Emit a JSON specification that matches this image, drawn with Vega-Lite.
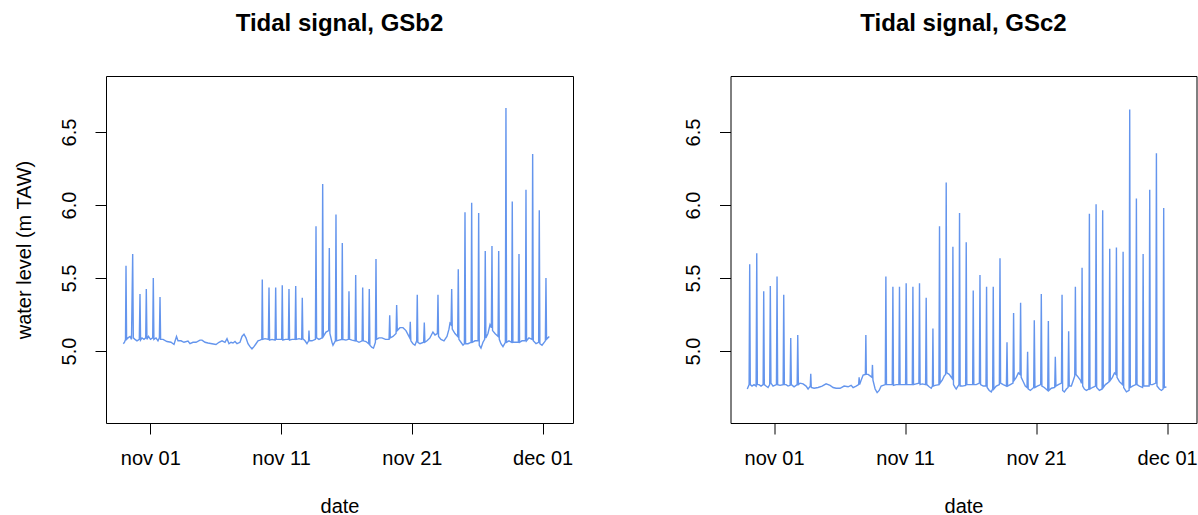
{
  "$schema": "https://vega.github.io/schema/vega-lite/v6.json",
  "background": "white",
  "padding": {"left": 13, "top": 11, "right": 2, "bottom": 2},
  "bounds": "flush",
  "spacing": 157.5,
  "config": {
    "font": "Liberation Sans",
    "view": {"stroke": "black", "strokeWidth": 1},
    "axis": {
      "domain": false,
      "grid": false,
      "ticks": true,
      "tickColor": "black",
      "tickWidth": 1,
      "tickSize": 11,
      "labelColor": "black",
      "labelFont": "Liberation Sans",
      "labelFontSize": 20,
      "titleColor": "black",
      "titleFont": "Liberation Sans",
      "titleFontSize": 20,
      "titleFontWeight": "normal"
    },
    "title": {
      "font": "Liberation Sans",
      "fontSize": 24,
      "fontWeight": "bold",
      "color": "black",
      "anchor": "middle",
      "baseline": "alphabetic",
      "offset": 40
    }
  },
  "datasets": {
    "gsb2": [
      {"t":"2021-10-29T22:30:00Z","level":5.05},
      {"t":"2021-10-30T00:40:00Z","level":5.06},
      {"t":"2021-10-30T02:30:00Z","level":5.08},
      {"t":"2021-10-30T03:25:00Z","level":5.585},
      {"t":"2021-10-30T04:30:00Z","level":5.08},
      {"t":"2021-10-30T07:05:00Z","level":5.09},
      {"t":"2021-10-30T10:45:00Z","level":5.10},
      {"t":"2021-10-30T13:30:00Z","level":5.08},
      {"t":"2021-10-30T15:40:00Z","level":5.665},
      {"t":"2021-10-30T16:50:00Z","level":5.09},
      {"t":"2021-10-30T19:55:00Z","level":5.08},
      {"t":"2021-10-30T23:35:00Z","level":5.07},
      {"t":"2021-10-31T03:50:00Z","level":5.08},
      {"t":"2021-10-31T05:05:00Z","level":5.39},
      {"t":"2021-10-31T06:10:00Z","level":5.075},
      {"t":"2021-10-31T08:50:00Z","level":5.09},
      {"t":"2021-10-31T12:25:00Z","level":5.08},
      {"t":"2021-10-31T15:35:00Z","level":5.09},
      {"t":"2021-10-31T16:40:00Z","level":5.425},
      {"t":"2021-10-31T17:50:00Z","level":5.08},
      {"t":"2021-10-31T20:40:00Z","level":5.10},
      {"t":"2021-11-01T00:20:00Z","level":5.08},
      {"t":"2021-11-01T04:25:00Z","level":5.09},
      {"t":"2021-11-01T05:30:00Z","level":5.50},
      {"t":"2021-11-01T06:35:00Z","level":5.08},
      {"t":"2021-11-01T10:30:00Z","level":5.09},
      {"t":"2021-11-01T14:05:00Z","level":5.07},
      {"t":"2021-11-01T16:40:00Z","level":5.09},
      {"t":"2021-11-01T17:50:00Z","level":5.37},
      {"t":"2021-11-01T18:55:00Z","level":5.08},
      {"t":"2021-11-01T23:20:00Z","level":5.08},
      {"t":"2021-11-02T06:40:00Z","level":5.065},
      {"t":"2021-11-02T14:00:00Z","level":5.06},
      {"t":"2021-11-02T19:30:00Z","level":5.045},
      {"t":"2021-11-03T00:05:00Z","level":5.10},
      {"t":"2021-11-03T02:50:00Z","level":5.07},
      {"t":"2021-11-03T08:20:00Z","level":5.07},
      {"t":"2021-11-03T13:50:00Z","level":5.06},
      {"t":"2021-11-03T21:10:00Z","level":5.068},
      {"t":"2021-11-04T00:50:00Z","level":5.05},
      {"t":"2021-11-04T06:25:00Z","level":5.06},
      {"t":"2021-11-04T11:55:00Z","level":5.06},
      {"t":"2021-11-04T19:10:00Z","level":5.075},
      {"t":"2021-11-04T22:55:00Z","level":5.075},
      {"t":"2021-11-05T04:25:00Z","level":5.06},
      {"t":"2021-11-05T09:55:00Z","level":5.055},
      {"t":"2021-11-05T17:10:00Z","level":5.05},
      {"t":"2021-11-06T00:35:00Z","level":5.045},
      {"t":"2021-11-06T06:05:00Z","level":5.06},
      {"t":"2021-11-06T11:35:00Z","level":5.07},
      {"t":"2021-11-06T17:05:00Z","level":5.06},
      {"t":"2021-11-06T20:45:00Z","level":5.085},
      {"t":"2021-11-07T00:25:00Z","level":5.05},
      {"t":"2021-11-07T04:05:00Z","level":5.06},
      {"t":"2021-11-07T07:45:00Z","level":5.055},
      {"t":"2021-11-07T11:25:00Z","level":5.065},
      {"t":"2021-11-07T15:05:00Z","level":5.05},
      {"t":"2021-11-07T20:35:00Z","level":5.06},
      {"t":"2021-11-08T00:15:00Z","level":5.10},
      {"t":"2021-11-08T03:55:00Z","level":5.115},
      {"t":"2021-11-08T07:35:00Z","level":5.09},
      {"t":"2021-11-08T11:15:00Z","level":5.05},
      {"t":"2021-11-08T14:55:00Z","level":5.03},
      {"t":"2021-11-08T18:35:00Z","level":5.015},
      {"t":"2021-11-08T22:15:00Z","level":5.03},
      {"t":"2021-11-09T02:00:00Z","level":5.05},
      {"t":"2021-11-09T05:35:00Z","level":5.07},
      {"t":"2021-11-09T09:20:00Z","level":5.075},
      {"t":"2021-11-09T12:35:00Z","level":5.08},
      {"t":"2021-11-09T13:30:00Z","level":5.49},
      {"t":"2021-11-09T14:35:00Z","level":5.08},
      {"t":"2021-11-09T18:30:00Z","level":5.085},
      {"t":"2021-11-10T00:40:00Z","level":5.08},
      {"t":"2021-11-10T01:50:00Z","level":5.435},
      {"t":"2021-11-10T02:55:00Z","level":5.075},
      {"t":"2021-11-10T07:20:00Z","level":5.08},
      {"t":"2021-11-10T13:00:00Z","level":5.075},
      {"t":"2021-11-10T14:05:00Z","level":5.435},
      {"t":"2021-11-10T15:10:00Z","level":5.08},
      {"t":"2021-11-10T20:10:00Z","level":5.08},
      {"t":"2021-11-11T01:05:00Z","level":5.08},
      {"t":"2021-11-11T02:10:00Z","level":5.45},
      {"t":"2021-11-11T03:20:00Z","level":5.075},
      {"t":"2021-11-11T08:05:00Z","level":5.08},
      {"t":"2021-11-11T13:25:00Z","level":5.08},
      {"t":"2021-11-11T14:30:00Z","level":5.425},
      {"t":"2021-11-11T15:35:00Z","level":5.075},
      {"t":"2021-11-11T20:00:00Z","level":5.08},
      {"t":"2021-11-12T01:40:00Z","level":5.08},
      {"t":"2021-11-12T02:50:00Z","level":5.445},
      {"t":"2021-11-12T03:55:00Z","level":5.08},
      {"t":"2021-11-12T08:55:00Z","level":5.085},
      {"t":"2021-11-12T13:50:00Z","level":5.08},
      {"t":"2021-11-12T14:55:00Z","level":5.365},
      {"t":"2021-11-12T16:00:00Z","level":5.085},
      {"t":"2021-11-12T19:55:00Z","level":5.07},
      {"t":"2021-11-12T23:30:00Z","level":5.05},
      {"t":"2021-11-13T02:30:00Z","level":5.07},
      {"t":"2021-11-13T03:10:00Z","level":5.14},
      {"t":"2021-11-13T04:05:00Z","level":5.07},
      {"t":"2021-11-13T08:40:00Z","level":5.07},
      {"t":"2021-11-13T15:00:00Z","level":5.08},
      {"t":"2021-11-13T16:05:00Z","level":5.855},
      {"t":"2021-11-13T17:10:00Z","level":5.09},
      {"t":"2021-11-13T21:30:00Z","level":5.08},
      {"t":"2021-11-14T03:15:00Z","level":5.09},
      {"t":"2021-11-14T04:20:00Z","level":6.145},
      {"t":"2021-11-14T05:30:00Z","level":5.10},
      {"t":"2021-11-14T10:25:00Z","level":5.13},
      {"t":"2021-11-14T15:20:00Z","level":5.14},
      {"t":"2021-11-14T16:30:00Z","level":5.705},
      {"t":"2021-11-14T17:35:00Z","level":5.12},
      {"t":"2021-11-14T21:25:00Z","level":5.06},
      {"t":"2021-11-14T23:15:00Z","level":5.04},
      {"t":"2021-11-15T03:40:00Z","level":5.07},
      {"t":"2021-11-15T04:45:00Z","level":5.935},
      {"t":"2021-11-15T05:50:00Z","level":5.07},
      {"t":"2021-11-15T10:15:00Z","level":5.075},
      {"t":"2021-11-15T15:10:00Z","level":5.08},
      {"t":"2021-11-15T16:20:00Z","level":5.74},
      {"t":"2021-11-15T17:25:00Z","level":5.08},
      {"t":"2021-11-15T23:05:00Z","level":5.075},
      {"t":"2021-11-16T03:30:00Z","level":5.08},
      {"t":"2021-11-16T04:35:00Z","level":5.41},
      {"t":"2021-11-16T05:40:00Z","level":5.08},
      {"t":"2021-11-16T10:05:00Z","level":5.075},
      {"t":"2021-11-16T15:50:00Z","level":5.07},
      {"t":"2021-11-16T16:55:00Z","level":5.52},
      {"t":"2021-11-16T18:00:00Z","level":5.07},
      {"t":"2021-11-16T23:00:00Z","level":5.06},
      {"t":"2021-11-17T04:40:00Z","level":5.07},
      {"t":"2021-11-17T05:45:00Z","level":5.435},
      {"t":"2021-11-17T06:50:00Z","level":5.07},
      {"t":"2021-11-17T11:50:00Z","level":5.065},
      {"t":"2021-11-17T16:45:00Z","level":5.05},
      {"t":"2021-11-17T17:50:00Z","level":5.425},
      {"t":"2021-11-17T19:00:00Z","level":5.04},
      {"t":"2021-11-17T22:50:00Z","level":5.025},
      {"t":"2021-11-18T01:35:00Z","level":5.02},
      {"t":"2021-11-18T05:05:00Z","level":5.06},
      {"t":"2021-11-18T06:10:00Z","level":5.63},
      {"t":"2021-11-18T07:15:00Z","level":5.08},
      {"t":"2021-11-18T11:40:00Z","level":5.09},
      {"t":"2021-11-18T17:10:00Z","level":5.09},
      {"t":"2021-11-18T23:35:00Z","level":5.08},
      {"t":"2021-11-19T06:10:00Z","level":5.08},
      {"t":"2021-11-19T07:20:00Z","level":5.245},
      {"t":"2021-11-19T08:25:00Z","level":5.09},
      {"t":"2021-11-19T13:20:00Z","level":5.10},
      {"t":"2021-11-19T19:00:00Z","level":5.12},
      {"t":"2021-11-19T20:05:00Z","level":5.315},
      {"t":"2021-11-19T21:15:00Z","level":5.14},
      {"t":"2021-11-20T02:10:00Z","level":5.16},
      {"t":"2021-11-20T07:40:00Z","level":5.16},
      {"t":"2021-11-20T13:10:00Z","level":5.14},
      {"t":"2021-11-20T20:00:00Z","level":5.09},
      {"t":"2021-11-20T21:05:00Z","level":5.20},
      {"t":"2021-11-20T22:10:00Z","level":5.07},
      {"t":"2021-11-21T02:00:00Z","level":5.05},
      {"t":"2021-11-21T05:40:00Z","level":5.04},
      {"t":"2021-11-21T08:50:00Z","level":5.07},
      {"t":"2021-11-21T09:55:00Z","level":5.385},
      {"t":"2021-11-21T11:00:00Z","level":5.06},
      {"t":"2021-11-21T14:55:00Z","level":5.05},
      {"t":"2021-11-21T21:40:00Z","level":5.06},
      {"t":"2021-11-21T22:50:00Z","level":5.195},
      {"t":"2021-11-21T23:55:00Z","level":5.06},
      {"t":"2021-11-22T03:45:00Z","level":5.07},
      {"t":"2021-11-22T09:10:00Z","level":5.09},
      {"t":"2021-11-22T14:40:00Z","level":5.13},
      {"t":"2021-11-22T18:25:00Z","level":5.11},
      {"t":"2021-11-22T22:50:00Z","level":5.12},
      {"t":"2021-11-22T23:55:00Z","level":5.385},
      {"t":"2021-11-23T01:00:00Z","level":5.10},
      {"t":"2021-11-23T05:25:00Z","level":5.08},
      {"t":"2021-11-23T10:55:00Z","level":5.07},
      {"t":"2021-11-23T16:25:00Z","level":5.10},
      {"t":"2021-11-23T20:05:00Z","level":5.15},
      {"t":"2021-11-23T21:55:00Z","level":5.19},
      {"t":"2021-11-23T23:55:00Z","level":5.18},
      {"t":"2021-11-24T01:05:00Z","level":5.425},
      {"t":"2021-11-24T02:10:00Z","level":5.15},
      {"t":"2021-11-24T07:05:00Z","level":5.12},
      {"t":"2021-11-24T12:05:00Z","level":5.10},
      {"t":"2021-11-24T13:10:00Z","level":5.56},
      {"t":"2021-11-24T14:20:00Z","level":5.08},
      {"t":"2021-11-24T18:05:00Z","level":5.06},
      {"t":"2021-11-24T21:50:00Z","level":5.04},
      {"t":"2021-11-25T00:25:00Z","level":5.05},
      {"t":"2021-11-25T01:30:00Z","level":5.95},
      {"t":"2021-11-25T02:35:00Z","level":5.05},
      {"t":"2021-11-25T07:00:00Z","level":5.05},
      {"t":"2021-11-25T12:40:00Z","level":5.06},
      {"t":"2021-11-25T13:45:00Z","level":6.015},
      {"t":"2021-11-25T14:50:00Z","level":5.06},
      {"t":"2021-11-25T19:50:00Z","level":5.07},
      {"t":"2021-11-26T01:30:00Z","level":5.07},
      {"t":"2021-11-26T02:35:00Z","level":5.945},
      {"t":"2021-11-26T03:40:00Z","level":5.04},
      {"t":"2021-11-26T06:50:00Z","level":5.02},
      {"t":"2021-11-26T10:30:00Z","level":5.06},
      {"t":"2021-11-26T13:35:00Z","level":5.08},
      {"t":"2021-11-26T14:40:00Z","level":5.685},
      {"t":"2021-11-26T15:50:00Z","level":5.09},
      {"t":"2021-11-26T19:40:00Z","level":5.12},
      {"t":"2021-11-26T23:25:00Z","level":5.18},
      {"t":"2021-11-27T01:55:00Z","level":5.16},
      {"t":"2021-11-27T03:00:00Z","level":5.72},
      {"t":"2021-11-27T04:05:00Z","level":5.14},
      {"t":"2021-11-27T08:30:00Z","level":5.12},
      {"t":"2021-11-27T14:10:00Z","level":5.10},
      {"t":"2021-11-27T15:20:00Z","level":5.685},
      {"t":"2021-11-27T16:25:00Z","level":5.08},
      {"t":"2021-11-27T19:30:00Z","level":5.05},
      {"t":"2021-11-27T23:10:00Z","level":5.03},
      {"t":"2021-11-28T03:35:00Z","level":5.06},
      {"t":"2021-11-28T04:40:00Z","level":6.665},
      {"t":"2021-11-28T05:50:00Z","level":5.06},
      {"t":"2021-11-28T10:10:00Z","level":5.07},
      {"t":"2021-11-28T15:10:00Z","level":5.06},
      {"t":"2021-11-28T16:15:00Z","level":6.025},
      {"t":"2021-11-28T17:25:00Z","level":5.06},
      {"t":"2021-11-28T21:10:00Z","level":5.06},
      {"t":"2021-11-29T03:30:00Z","level":5.06},
      {"t":"2021-11-29T04:35:00Z","level":5.665},
      {"t":"2021-11-29T05:40:00Z","level":5.06},
      {"t":"2021-11-29T10:05:00Z","level":5.07},
      {"t":"2021-11-29T16:20:00Z","level":5.07},
      {"t":"2021-11-29T17:25:00Z","level":6.105},
      {"t":"2021-11-29T18:30:00Z","level":5.07},
      {"t":"2021-11-29T22:55:00Z","level":5.09},
      {"t":"2021-11-30T04:35:00Z","level":5.08},
      {"t":"2021-11-30T05:40:00Z","level":6.35},
      {"t":"2021-11-30T06:50:00Z","level":5.07},
      {"t":"2021-11-30T11:50:00Z","level":5.05},
      {"t":"2021-11-30T16:40:00Z","level":5.06},
      {"t":"2021-11-30T17:50:00Z","level":5.965},
      {"t":"2021-11-30T18:55:00Z","level":5.05},
      {"t":"2021-11-30T22:50:00Z","level":5.04},
      {"t":"2021-12-01T05:00:00Z","level":5.07},
      {"t":"2021-12-01T06:05:00Z","level":5.50},
      {"t":"2021-12-01T07:10:00Z","level":5.08},
      {"t":"2021-12-01T12:10:00Z","level":5.10}
    ],
    "gsc2": [
      {"t":"2021-10-29T23:00:00Z","level":4.74},
      {"t":"2021-10-30T01:15:00Z","level":4.76},
      {"t":"2021-10-30T02:20:00Z","level":4.77},
      {"t":"2021-10-30T03:25:00Z","level":5.595},
      {"t":"2021-10-30T04:30:00Z","level":4.77},
      {"t":"2021-10-30T07:40:00Z","level":4.76},
      {"t":"2021-10-30T11:20:00Z","level":4.77},
      {"t":"2021-10-30T15:10:00Z","level":4.76},
      {"t":"2021-10-30T16:20:00Z","level":5.67},
      {"t":"2021-10-30T17:25:00Z","level":4.77},
      {"t":"2021-10-30T20:30:00Z","level":4.77},
      {"t":"2021-10-31T00:10:00Z","level":4.76},
      {"t":"2021-10-31T04:00:00Z","level":4.77},
      {"t":"2021-10-31T05:05:00Z","level":5.41},
      {"t":"2021-10-31T06:10:00Z","level":4.77},
      {"t":"2021-10-31T09:20:00Z","level":4.76},
      {"t":"2021-10-31T13:00:00Z","level":4.75},
      {"t":"2021-10-31T16:05:00Z","level":4.77},
      {"t":"2021-10-31T17:10:00Z","level":5.445},
      {"t":"2021-10-31T18:20:00Z","level":4.78},
      {"t":"2021-10-31T22:10:00Z","level":4.76},
      {"t":"2021-11-01T04:25:00Z","level":4.77},
      {"t":"2021-11-01T05:30:00Z","level":5.51},
      {"t":"2021-11-01T06:35:00Z","level":4.77},
      {"t":"2021-11-01T11:00:00Z","level":4.765},
      {"t":"2021-11-01T16:40:00Z","level":4.77},
      {"t":"2021-11-01T17:45:00Z","level":5.385},
      {"t":"2021-11-01T18:55:00Z","level":4.77},
      {"t":"2021-11-01T22:00:00Z","level":4.77},
      {"t":"2021-11-02T01:40:00Z","level":4.76},
      {"t":"2021-11-02T05:30:00Z","level":4.765},
      {"t":"2021-11-02T06:35:00Z","level":5.09},
      {"t":"2021-11-02T07:40:00Z","level":4.77},
      {"t":"2021-11-02T12:40:00Z","level":4.755},
      {"t":"2021-11-02T18:20:00Z","level":4.77},
      {"t":"2021-11-02T19:25:00Z","level":5.11},
      {"t":"2021-11-02T20:35:00Z","level":4.77},
      {"t":"2021-11-02T23:40:00Z","level":4.78},
      {"t":"2021-11-03T05:10:00Z","level":4.775},
      {"t":"2021-11-03T10:40:00Z","level":4.76},
      {"t":"2021-11-03T14:20:00Z","level":4.74},
      {"t":"2021-11-03T18:20:00Z","level":4.76},
      {"t":"2021-11-03T19:15:00Z","level":4.845},
      {"t":"2021-11-03T20:10:00Z","level":4.75},
      {"t":"2021-11-04T01:20:00Z","level":4.745},
      {"t":"2021-11-04T08:40:00Z","level":4.75},
      {"t":"2021-11-04T16:00:00Z","level":4.76},
      {"t":"2021-11-04T23:20:00Z","level":4.775},
      {"t":"2021-11-05T06:40:00Z","level":4.765},
      {"t":"2021-11-05T12:10:00Z","level":4.75},
      {"t":"2021-11-05T17:40:00Z","level":4.745},
      {"t":"2021-11-06T01:00:00Z","level":4.745},
      {"t":"2021-11-06T08:20:00Z","level":4.76},
      {"t":"2021-11-06T15:40:00Z","level":4.755},
      {"t":"2021-11-06T21:10:00Z","level":4.765},
      {"t":"2021-11-07T00:50:00Z","level":4.75},
      {"t":"2021-11-07T06:20:00Z","level":4.76},
      {"t":"2021-11-07T10:55:00Z","level":4.77},
      {"t":"2021-11-07T11:50:00Z","level":4.82},
      {"t":"2021-11-07T12:45:00Z","level":4.77},
      {"t":"2021-11-07T15:30:00Z","level":4.80},
      {"t":"2021-11-07T19:10:00Z","level":4.835},
      {"t":"2021-11-07T23:15:00Z","level":4.84},
      {"t":"2021-11-08T00:10:00Z","level":5.11},
      {"t":"2021-11-08T01:00:00Z","level":4.84},
      {"t":"2021-11-08T04:20:00Z","level":4.84},
      {"t":"2021-11-08T08:00:00Z","level":4.83},
      {"t":"2021-11-08T11:20:00Z","level":4.82},
      {"t":"2021-11-08T12:15:00Z","level":4.905},
      {"t":"2021-11-08T13:10:00Z","level":4.80},
      {"t":"2021-11-08T17:10:00Z","level":4.74},
      {"t":"2021-11-08T20:50:00Z","level":4.715},
      {"t":"2021-11-09T00:30:00Z","level":4.73},
      {"t":"2021-11-09T04:10:00Z","level":4.76},
      {"t":"2021-11-09T07:50:00Z","level":4.765},
      {"t":"2021-11-09T11:45:00Z","level":4.77},
      {"t":"2021-11-09T12:50:00Z","level":5.51},
      {"t":"2021-11-09T13:55:00Z","level":4.77},
      {"t":"2021-11-09T18:50:00Z","level":4.77},
      {"t":"2021-11-10T00:30:00Z","level":4.77},
      {"t":"2021-11-10T01:40:00Z","level":5.44},
      {"t":"2021-11-10T02:45:00Z","level":4.765},
      {"t":"2021-11-10T07:40:00Z","level":4.77},
      {"t":"2021-11-10T12:40:00Z","level":4.77},
      {"t":"2021-11-10T13:45:00Z","level":5.44},
      {"t":"2021-11-10T14:50:00Z","level":4.77},
      {"t":"2021-11-10T18:40:00Z","level":4.77},
      {"t":"2021-11-11T00:55:00Z","level":4.77},
      {"t":"2021-11-11T02:00:00Z","level":5.465},
      {"t":"2021-11-11T03:05:00Z","level":4.77},
      {"t":"2021-11-11T07:30:00Z","level":4.77},
      {"t":"2021-11-11T13:10:00Z","level":4.77},
      {"t":"2021-11-11T14:20:00Z","level":5.44},
      {"t":"2021-11-11T15:25:00Z","level":4.77},
      {"t":"2021-11-11T20:20:00Z","level":4.775},
      {"t":"2021-11-12T01:20:00Z","level":4.78},
      {"t":"2021-11-12T02:25:00Z","level":5.465},
      {"t":"2021-11-12T03:30:00Z","level":4.77},
      {"t":"2021-11-12T07:20:00Z","level":4.775},
      {"t":"2021-11-12T13:35:00Z","level":4.77},
      {"t":"2021-11-12T14:40:00Z","level":5.365},
      {"t":"2021-11-12T15:45:00Z","level":4.77},
      {"t":"2021-11-12T20:10:00Z","level":4.755},
      {"t":"2021-11-12T23:50:00Z","level":4.745},
      {"t":"2021-11-13T02:05:00Z","level":4.76},
      {"t":"2021-11-13T03:00:00Z","level":5.155},
      {"t":"2021-11-13T03:55:00Z","level":4.76},
      {"t":"2021-11-13T07:10:00Z","level":4.765},
      {"t":"2021-11-13T14:00:00Z","level":4.77},
      {"t":"2021-11-13T15:05:00Z","level":5.855},
      {"t":"2021-11-13T16:10:00Z","level":4.78},
      {"t":"2021-11-13T20:00:00Z","level":4.80},
      {"t":"2021-11-13T23:40:00Z","level":4.83},
      {"t":"2021-11-14T02:15:00Z","level":4.84},
      {"t":"2021-11-14T03:20:00Z","level":6.155},
      {"t":"2021-11-14T04:25:00Z","level":4.85},
      {"t":"2021-11-14T08:50:00Z","level":4.84},
      {"t":"2021-11-14T14:30:00Z","level":4.81},
      {"t":"2021-11-14T15:35:00Z","level":5.715},
      {"t":"2021-11-14T16:40:00Z","level":4.77},
      {"t":"2021-11-14T19:50:00Z","level":4.75},
      {"t":"2021-11-14T21:40:00Z","level":4.74},
      {"t":"2021-11-15T02:40:00Z","level":4.77},
      {"t":"2021-11-15T03:45:00Z","level":5.945},
      {"t":"2021-11-15T04:50:00Z","level":4.76},
      {"t":"2021-11-15T08:40:00Z","level":4.76},
      {"t":"2021-11-15T14:55:00Z","level":4.765},
      {"t":"2021-11-15T16:00:00Z","level":5.745},
      {"t":"2021-11-15T17:05:00Z","level":4.77},
      {"t":"2021-11-15T21:30:00Z","level":4.77},
      {"t":"2021-11-16T03:45:00Z","level":4.77},
      {"t":"2021-11-16T04:50:00Z","level":5.415},
      {"t":"2021-11-16T05:55:00Z","level":4.77},
      {"t":"2021-11-16T10:20:00Z","level":4.77},
      {"t":"2021-11-16T16:05:00Z","level":4.78},
      {"t":"2021-11-16T17:10:00Z","level":5.52},
      {"t":"2021-11-16T18:15:00Z","level":4.77},
      {"t":"2021-11-16T23:10:00Z","level":4.76},
      {"t":"2021-11-17T04:10:00Z","level":4.76},
      {"t":"2021-11-17T05:15:00Z","level":5.44},
      {"t":"2021-11-17T06:20:00Z","level":4.75},
      {"t":"2021-11-17T10:10:00Z","level":4.73},
      {"t":"2021-11-17T13:55:00Z","level":4.72},
      {"t":"2021-11-17T16:25:00Z","level":4.74},
      {"t":"2021-11-17T17:30:00Z","level":5.44},
      {"t":"2021-11-17T18:35:00Z","level":4.74},
      {"t":"2021-11-17T23:00:00Z","level":4.76},
      {"t":"2021-11-18T04:40:00Z","level":4.77},
      {"t":"2021-11-18T05:50:00Z","level":5.635},
      {"t":"2021-11-18T06:55:00Z","level":4.78},
      {"t":"2021-11-18T11:50:00Z","level":4.77},
      {"t":"2021-11-18T17:35:00Z","level":4.76},
      {"t":"2021-11-18T18:40:00Z","level":5.06},
      {"t":"2021-11-18T19:45:00Z","level":4.76},
      {"t":"2021-11-19T00:40:00Z","level":4.77},
      {"t":"2021-11-19T05:40:00Z","level":4.78},
      {"t":"2021-11-19T06:45:00Z","level":5.26},
      {"t":"2021-11-19T07:50:00Z","level":4.80},
      {"t":"2021-11-19T11:40:00Z","level":4.82},
      {"t":"2021-11-19T15:25:00Z","level":4.85},
      {"t":"2021-11-19T18:30:00Z","level":4.84},
      {"t":"2021-11-19T19:35:00Z","level":5.33},
      {"t":"2021-11-19T20:40:00Z","level":4.82},
      {"t":"2021-11-20T00:30:00Z","level":4.79},
      {"t":"2021-11-20T04:10:00Z","level":4.76},
      {"t":"2021-11-20T07:20:00Z","level":4.75},
      {"t":"2021-11-20T08:25:00Z","level":4.995},
      {"t":"2021-11-20T09:30:00Z","level":4.74},
      {"t":"2021-11-20T13:25:00Z","level":4.73},
      {"t":"2021-11-20T19:35:00Z","level":4.75},
      {"t":"2021-11-20T20:40:00Z","level":5.21},
      {"t":"2021-11-20T21:50:00Z","level":4.75},
      {"t":"2021-11-21T02:10:00Z","level":4.76},
      {"t":"2021-11-21T08:25:00Z","level":4.77},
      {"t":"2021-11-21T09:30:00Z","level":5.39},
      {"t":"2021-11-21T10:35:00Z","level":4.76},
      {"t":"2021-11-21T15:00:00Z","level":4.75},
      {"t":"2021-11-21T21:15:00Z","level":4.73},
      {"t":"2021-11-21T22:25:00Z","level":5.205},
      {"t":"2021-11-21T23:30:00Z","level":4.73},
      {"t":"2021-11-22T03:55:00Z","level":4.745},
      {"t":"2021-11-22T10:05:00Z","level":4.75},
      {"t":"2021-11-22T11:10:00Z","level":4.96},
      {"t":"2021-11-22T12:20:00Z","level":4.76},
      {"t":"2021-11-22T16:40:00Z","level":4.77},
      {"t":"2021-11-22T22:25:00Z","level":4.78},
      {"t":"2021-11-22T23:30:00Z","level":5.385},
      {"t":"2021-11-23T00:35:00Z","level":4.73},
      {"t":"2021-11-23T03:40:00Z","level":4.72},
      {"t":"2021-11-23T07:25:00Z","level":4.74},
      {"t":"2021-11-23T10:30:00Z","level":4.75},
      {"t":"2021-11-23T11:35:00Z","level":5.135},
      {"t":"2021-11-23T12:40:00Z","level":4.76},
      {"t":"2021-11-23T16:30:00Z","level":4.76},
      {"t":"2021-11-23T20:10:00Z","level":4.80},
      {"t":"2021-11-23T22:45:00Z","level":4.83},
      {"t":"2021-11-23T23:55:00Z","level":5.44},
      {"t":"2021-11-24T01:00:00Z","level":4.84},
      {"t":"2021-11-24T05:25:00Z","level":4.82},
      {"t":"2021-11-24T09:05:00Z","level":4.80},
      {"t":"2021-11-24T11:05:00Z","level":4.78},
      {"t":"2021-11-24T12:10:00Z","level":5.57},
      {"t":"2021-11-24T13:20:00Z","level":4.76},
      {"t":"2021-11-24T16:25:00Z","level":4.74},
      {"t":"2021-11-24T20:05:00Z","level":4.73},
      {"t":"2021-11-25T00:30:00Z","level":4.74},
      {"t":"2021-11-25T01:35:00Z","level":5.94},
      {"t":"2021-11-25T02:40:00Z","level":4.74},
      {"t":"2021-11-25T07:00:00Z","level":4.75},
      {"t":"2021-11-25T12:45:00Z","level":4.76},
      {"t":"2021-11-25T13:50:00Z","level":6.005},
      {"t":"2021-11-25T14:55:00Z","level":4.75},
      {"t":"2021-11-25T19:55:00Z","level":4.73},
      {"t":"2021-11-26T00:50:00Z","level":4.74},
      {"t":"2021-11-26T01:55:00Z","level":5.965},
      {"t":"2021-11-26T03:00:00Z","level":4.75},
      {"t":"2021-11-26T06:55:00Z","level":4.77},
      {"t":"2021-11-26T10:35:00Z","level":4.78},
      {"t":"2021-11-26T13:40:00Z","level":4.79},
      {"t":"2021-11-26T14:50:00Z","level":5.70},
      {"t":"2021-11-26T15:55:00Z","level":4.80},
      {"t":"2021-11-26T19:45:00Z","level":4.82},
      {"t":"2021-11-26T23:25:00Z","level":4.85},
      {"t":"2021-11-27T02:00:00Z","level":4.84},
      {"t":"2021-11-27T03:05:00Z","level":5.71},
      {"t":"2021-11-27T04:10:00Z","level":4.82},
      {"t":"2021-11-27T08:35:00Z","level":4.79},
      {"t":"2021-11-27T14:10:00Z","level":4.77},
      {"t":"2021-11-27T15:20:00Z","level":5.68},
      {"t":"2021-11-27T16:25:00Z","level":4.75},
      {"t":"2021-11-27T21:25:00Z","level":4.72},
      {"t":"2021-11-28T02:20:00Z","level":4.73},
      {"t":"2021-11-28T03:25:00Z","level":6.655},
      {"t":"2021-11-28T04:30:00Z","level":4.75},
      {"t":"2021-11-28T08:25:00Z","level":4.76},
      {"t":"2021-11-28T14:35:00Z","level":4.77},
      {"t":"2021-11-28T15:40:00Z","level":6.045},
      {"t":"2021-11-28T16:50:00Z","level":4.77},
      {"t":"2021-11-28T21:10:00Z","level":4.76},
      {"t":"2021-11-29T02:55:00Z","level":4.75},
      {"t":"2021-11-29T04:00:00Z","level":5.665},
      {"t":"2021-11-29T05:05:00Z","level":4.76},
      {"t":"2021-11-29T10:00:00Z","level":4.76},
      {"t":"2021-11-29T15:00:00Z","level":4.76},
      {"t":"2021-11-29T16:05:00Z","level":6.105},
      {"t":"2021-11-29T17:10:00Z","level":4.77},
      {"t":"2021-11-29T21:00:00Z","level":4.77},
      {"t":"2021-11-30T03:15:00Z","level":4.78},
      {"t":"2021-11-30T04:20:00Z","level":6.355},
      {"t":"2021-11-30T05:25:00Z","level":4.76},
      {"t":"2021-11-30T09:50:00Z","level":4.74},
      {"t":"2021-11-30T13:30:00Z","level":4.73},
      {"t":"2021-11-30T16:35:00Z","level":4.74},
      {"t":"2021-11-30T17:40:00Z","level":5.98},
      {"t":"2021-11-30T18:50:00Z","level":4.75},
      {"t":"2021-11-30T22:40:00Z","level":4.755}
    ]
  },
  "hconcat": [
    {
      "width": 467,
      "height": 347,
      "title": "Tidal signal, GSb2",
      "data": {"name": "gsb2"},
      "mark": {"type": "line", "color": "#6495ED", "strokeWidth": 1.4, "clip": true},
      "encoding": {
        "x": {
          "field": "t",
          "type": "temporal",
          "scale": {
            "type": "utc",
            "domain": [
              {"year": 2021, "month": 10, "date": 28, "hours": 14, "minutes": 42, "utc": true},
              {"year": 2021, "month": 12, "date": 3, "hours": 7, "minutes": 42, "utc": true}
            ]
          },
          "axis": {
            "title": "date",
            "values": [
              {"year": 2021, "month": 11, "date": 1, "utc": true},
              {"year": 2021, "month": 11, "date": 11, "utc": true},
              {"year": 2021, "month": 11, "date": 21, "utc": true},
              {"year": 2021, "month": 12, "date": 1, "utc": true}
            ],
            "labelExpr": "lower(utcFormat(datum.value, '%b %d'))",
            "labelAlign": "center",
            "labelBaseline": "top",
            "labelPadding": 14,
            "labelFlush": false,
            "labelOverlap": false,
            "titlePadding": 28
          }
        },
        "y": {
          "field": "level",
          "type": "quantitative",
          "scale": {"domain": [4.507, 6.884], "nice": false, "zero": false},
          "axis": {
            "title": "water level (m TAW)",
            "values": [5, 5.5, 6, 6.5],
            "format": ".1f",
            "labelAngle": -90,
            "labelAlign": "center",
            "labelBaseline": "bottom",
            "labelPadding": 16,
            "labelFlush": false,
            "labelOverlap": false,
            "titlePadding": 25
          }
        }
      }
    },
    {
      "width": 466,
      "height": 347,
      "title": "Tidal signal, GSc2",
      "data": {"name": "gsc2"},
      "mark": {"type": "line", "color": "#6495ED", "strokeWidth": 1.4, "clip": true},
      "encoding": {
        "x": {
          "field": "t",
          "type": "temporal",
          "scale": {
            "type": "utc",
            "domain": [
              {"year": 2021, "month": 10, "date": 28, "hours": 16, "minutes": 15, "utc": true},
              {"year": 2021, "month": 12, "date": 3, "hours": 5, "minutes": 45, "utc": true}
            ]
          },
          "axis": {
            "title": "date",
            "values": [
              {"year": 2021, "month": 11, "date": 1, "utc": true},
              {"year": 2021, "month": 11, "date": 11, "utc": true},
              {"year": 2021, "month": 11, "date": 21, "utc": true},
              {"year": 2021, "month": 12, "date": 1, "utc": true}
            ],
            "labelExpr": "lower(utcFormat(datum.value, '%b %d'))",
            "labelAlign": "center",
            "labelBaseline": "top",
            "labelPadding": 14,
            "labelFlush": false,
            "labelOverlap": false,
            "titlePadding": 28
          }
        },
        "y": {
          "field": "level",
          "type": "quantitative",
          "scale": {"domain": [4.507, 6.884], "nice": false, "zero": false},
          "axis": {
            "title": null,
            "values": [5, 5.5, 6, 6.5],
            "format": ".1f",
            "labelAngle": -90,
            "labelAlign": "center",
            "labelBaseline": "bottom",
            "labelPadding": 16,
            "labelFlush": false,
            "labelOverlap": false
          }
        }
      }
    }
  ]
}
